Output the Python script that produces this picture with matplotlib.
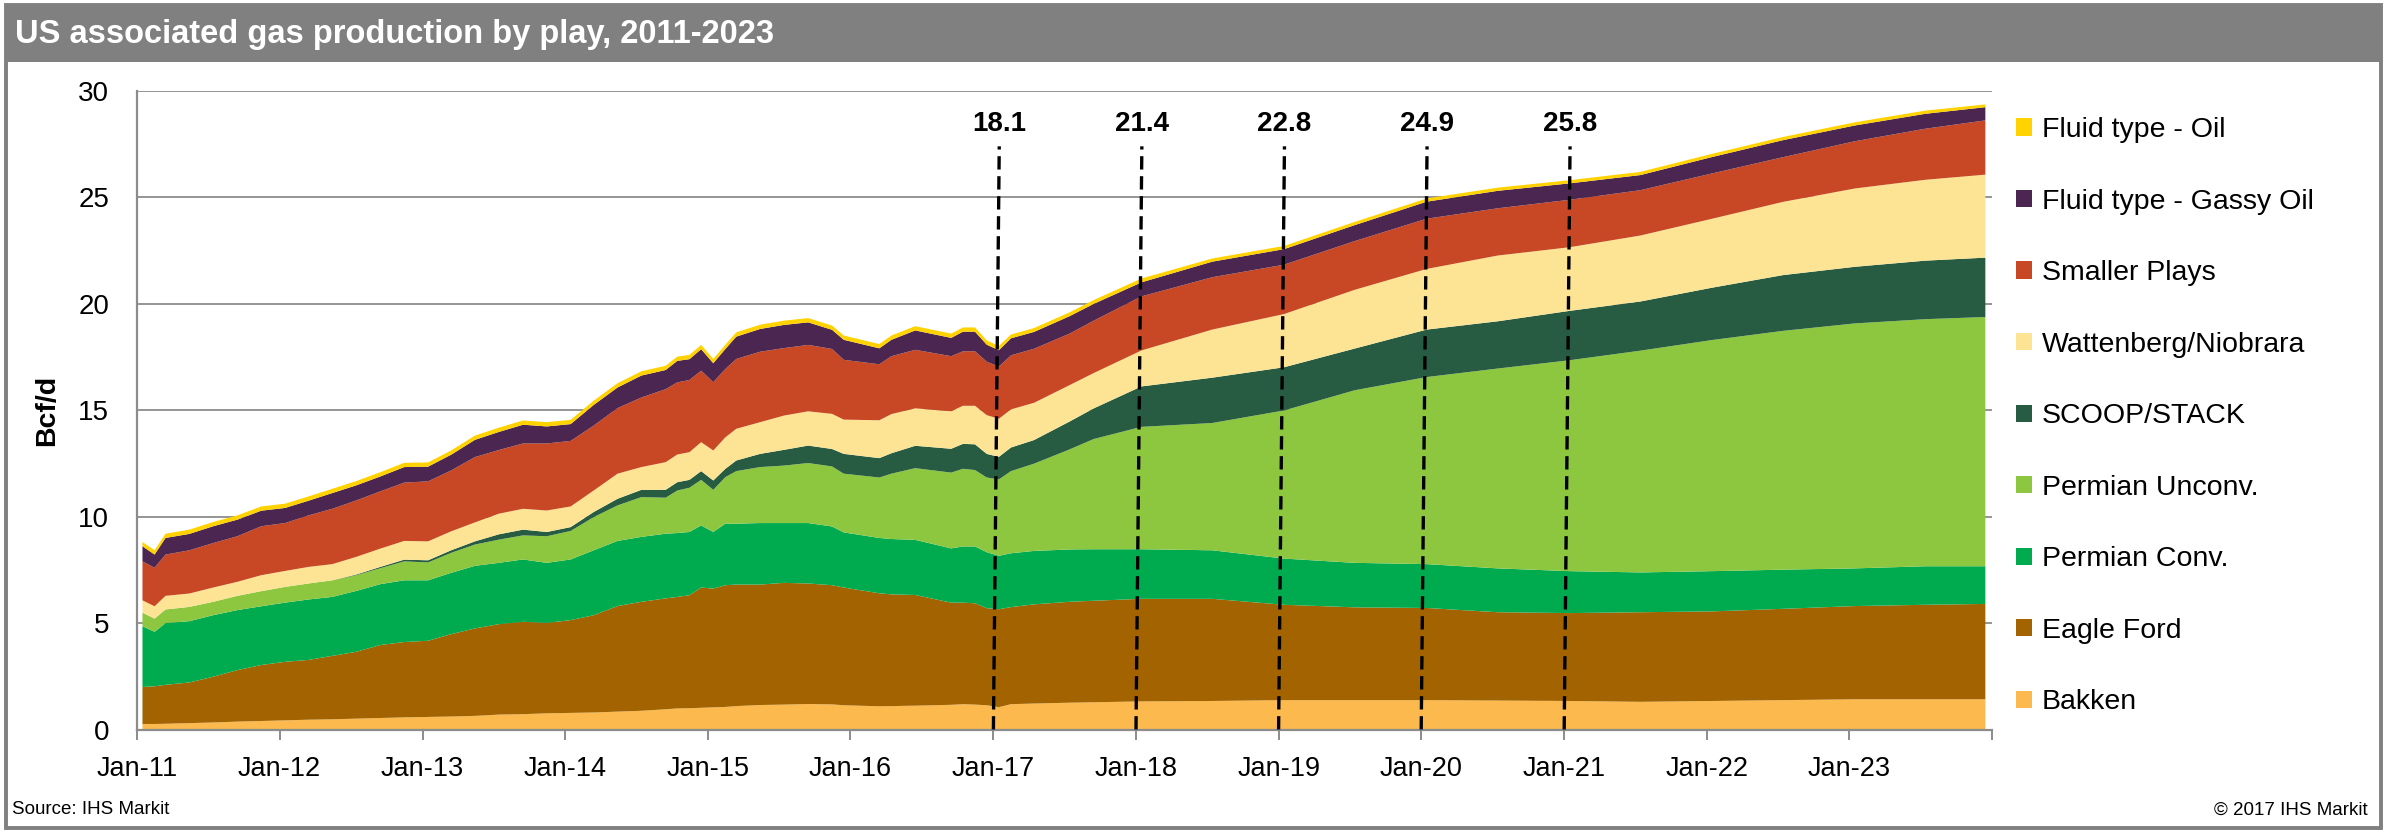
import matplotlib
matplotlib.use("Agg")
import matplotlib.pyplot as plt
import matplotlib.dates as mdates
from matplotlib.patches import Patch, Rectangle
import pandas as pd

# ---------------- data (Bcf/d), mid-month samples ----------------
dates = ["2011-01", "2011-02", "2011-03", "2011-05", "2011-07", "2011-09", "2011-11",
         "2012-01", "2012-03", "2012-05", "2012-07", "2012-09", "2012-11",
         "2013-01", "2013-03", "2013-05", "2013-07", "2013-09", "2013-11",
         "2014-01", "2014-03", "2014-05", "2014-07", "2014-09", "2014-10", "2014-11", "2014-12",
         "2015-01", "2015-02", "2015-03", "2015-05", "2015-07", "2015-09", "2015-11", "2015-12",
         "2016-03", "2016-04", "2016-06", "2016-09", "2016-10", "2016-11", "2016-12",
         "2017-01", "2017-02", "2017-04", "2017-07", "2017-09",
         "2018-01", "2018-07", "2019-01", "2019-07", "2020-01", "2020-07",
         "2021-01", "2021-07", "2022-01", "2022-07", "2023-01", "2023-07", "2023-12"]

bakken = [.26, .26, .27, .30, .33, .37, .40, .43, .46, .48,
          .51, .54, .57, .59, .61, .64, .70, .72, .76, .78,
          .80, .84, .88, .95, .99, 1.00, 1.02, 1.04, 1.06, 1.10,
          1.15, 1.17, 1.20, 1.18, 1.14, 1.09, 1.10, 1.12, 1.16, 1.19,
          1.17, 1.14, 1.05, 1.19, 1.22, 1.26, 1.28, 1.32, 1.34, 1.38,
          1.38, 1.38, 1.36, 1.34, 1.30, 1.34, 1.38, 1.42, 1.42, 1.42]
eagle_ford = [1.74, 1.77, 1.83, 1.91, 2.15, 2.42, 2.63, 2.75, 2.81, 2.98,
              3.14, 3.43, 3.54, 3.58, 3.87, 4.11, 4.25, 4.34, 4.25, 4.36,
              4.57, 4.96, 5.12, 5.21, 5.24, 5.31, 5.65, 5.58, 5.72, 5.71,
              5.66, 5.72, 5.66, 5.60, 5.53, 5.31, 5.25, 5.20, 4.80, 4.77,
              4.76, 4.56, 4.60, 4.56, 4.66, 4.74, 4.77, 4.82, 4.80, 4.48,
              4.36, 4.33, 4.15, 4.13, 4.21, 4.21, 4.29, 4.38, 4.44, 4.48]
permian_conv = [2.85, 2.56, 2.90, 2.88, 2.89, 2.82, 2.76, 2.78, 2.84, 2.77,
                2.86, 2.86, 2.90, 2.84, 2.88, 2.94, 2.88, 2.93, 2.82, 2.85,
                3.05, 3.06, 3.05, 3.04, 3.00, 2.97, 2.92, 2.66, 2.89, 2.86,
                2.89, 2.81, 2.84, 2.76, 2.59, 2.60, 2.60, 2.59, 2.55, 2.64,
                2.67, 2.63, 2.51, 2.53, 2.51, 2.46, 2.42, 2.33, 2.28, 2.17,
                2.09, 2.06, 2.06, 1.97, 1.87, 1.89, 1.84, 1.77, 1.81, 1.77]
permian_unconv = [.64, .62, .64, .67, .63, .67, .71, .74, .75, .78,
                  .74, .75, .89, .84, .94, 1.00, 1.09, 1.13, 1.25, 1.34,
                  1.56, 1.67, 1.87, 1.69, 2.00, 2.08, 2.14, 1.98, 2.19, 2.47,
                  2.63, 2.70, 2.82, 2.82, 2.76, 2.84, 3.07, 3.37, 3.56, 3.65,
                  3.59, 3.51, 3.59, 3.86, 4.10, 4.70, 5.18, 5.75, 5.98, 6.96,
                  8.11, 8.79, 9.39, 9.91, 10.42, 10.86, 11.22, 11.51, 11.61, 11.71]
scoop_stack = [0, 0, 0, 0, 0, 0, 0, 0, 0, 0,
               .03, .06, .08, .10, .12, .15, .25, .27, .20, .18,
               .24, .31, .34, .37, .39, .37, .41, .44, .39, .50,
               .62, .74, .82, .82, .93, .91, .96, 1.05, 1.12, 1.17,
               1.21, 1.11, 1.06, 1.11, 1.11, 1.31, 1.44, 1.90, 2.13, 2.03,
               1.96, 2.23, 2.22, 2.32, 2.31, 2.46, 2.62, 2.66, 2.75, 2.79]
wattenberg = [.58, .58, .64, .63, .67, .66, .75, .75, .78, .76,
              .83, .86, .88, .89, .89, .89, .97, .98, 1.01, .97,
              1.01, 1.18, 1.07, 1.30, 1.30, 1.30, 1.36, 1.41, 1.48, 1.49,
              1.49, 1.61, 1.61, 1.65, 1.61, 1.78, 1.84, 1.76, 1.76, 1.79,
              1.81, 1.82, 1.79, 1.79, 1.75, 1.71, 1.66, 1.69, 2.26, 2.50,
              2.76, 2.85, 3.09, 2.99, 3.10, 3.24, 3.44, 3.68, 3.80, 3.90]
smaller_plays = [1.83, 1.81, 1.94, 2.03, 2.09, 2.14, 2.30, 2.25, 2.42, 2.60,
                 2.65, 2.69, 2.74, 2.82, 2.86, 3.07, 2.99, 3.07, 3.15, 3.08,
                 3.05, 3.08, 3.27, 3.43, 3.39, 3.39, 3.36, 3.21, 3.21, 3.28,
                 3.31, 3.17, 3.12, 3.05, 2.81, 2.63, 2.72, 2.75, 2.59, 2.56,
                 2.56, 2.51, 2.45, 2.54, 2.54, 2.42, 2.46, 2.54, 2.46, 2.32,
                 2.29, 2.36, 2.22, 2.23, 2.13, 2.13, 2.10, 2.22, 2.40, 2.55]
gassy_oil = [.71, .62, .78, .77, .79, .78, .73, .71, .69, .74,
             .71, .70, .73, .69, .74, .81, .85, .88, .80, .79,
             .97, .97, 1.03, .90, 1.01, .98, 1.01, .89, .94, 1.05,
             1.07, 1.09, 1.06, .90, .94, .75, .77, .91, .86, .92,
             .92, .80, .77, .80, .79, .82, .79, .66, .73, .73,
             .75, .80, .82, .77, .71, .77, .80, .74, .70, .62]
fluid_oil = [.20] * 43 + [.18] * 5 + [.15] * 11 + [.13]

series_labels = ["Bakken", "Eagle Ford", "Permian Conv.", "Permian Unconv.", "SCOOP/STACK",
                 "Wattenberg/Niobrara", "Smaller Plays", "Fluid type - Gassy Oil", "Fluid type - Oil"]
series_colors = ["#FBB94E", "#A36400", "#00AA4E", "#8DC63F", "#275C42",
                 "#FDE494", "#C84826", "#4B2650", "#FFD200"]

ann_dates = ["2017-01-01", "2018-01-01", "2019-01-01", "2020-01-01", "2021-01-01"]
ann_values = ["18.1", "21.4", "22.8", "24.9", "25.8"]

year_ticks = list(range(2011, 2025))

# ---------------- figure ----------------
W, H = 2388, 832
DPI = 100
plt.rcParams['font.family'] = ['Liberation Sans', 'DejaVu Sans']
fig = plt.figure(figsize=(W / DPI, H / DPI), dpi=DPI)
fig.patch.set_facecolor("white")

def fx(px):
    return px / W

def fy(py):
    return 1 - py / H

GRAY = "#808080"
# outer frame and title bar
fig.patches.append(Rectangle((fx(6), fy(828)), fx(2381) - fx(6), fy(5) - fy(828),
                             transform=fig.transFigure, fill=False, edgecolor=GRAY,
                             linewidth=2.8, zorder=0))
fig.patches.append(Rectangle((fx(6), fy(62)), fx(2381) - fx(6), fy(4) - fy(62),
                             transform=fig.transFigure, facecolor=GRAY, edgecolor=GRAY,
                             linewidth=0, zorder=0))
fig.text(fx(15), fy(34), "US associated gas production by play, 2011-2023",
         color="white", fontsize=23.5, fontweight="bold", va="center", ha="left")

ax = fig.add_axes([fx(137), fy(729.5), fx(1992) - fx(137), fy(91) - fy(729.5)])

x = pd.to_datetime(dates) + pd.Timedelta(days=14)
xn = mdates.date2num(x)
series = [bakken, eagle_ford, permian_conv, permian_unconv, scoop_stack,
          wattenberg, smaller_plays, gassy_oil, fluid_oil]
ax.stackplot(xn, *series, colors=series_colors, labels=series_labels,
             linewidth=0, zorder=2)

ax.set_ylim(0, 30)
ax.set_yticks(range(0, 31, 5))
ax.set_xlim(mdates.date2num(pd.Timestamp("2011-01-01")),
            mdates.date2num(pd.Timestamp("2024-01-01")))
tick_pos = [mdates.date2num(pd.Timestamp(f"{y}-01-01")) for y in year_ticks]
ax.set_xticks(tick_pos)
ax.set_xticklabels([pd.Timestamp(f"{y}-01-01").strftime("%b-%y") if y < 2024 else ""
                    for y in year_ticks])

ax.grid(axis="y", color="#8C8C8C", linewidth=1.3, zorder=0)
ax.set_axisbelow(True)
for s in ["top", "right"]:
    ax.spines[s].set_visible(False)
for s in ["left", "bottom"]:
    ax.spines[s].set_color("#8C8C8C")
    ax.spines[s].set_linewidth(1.6)
ax.tick_params(axis="y", length=0, pad=20, labelsize=20)
ax.tick_params(axis="x", length=7, width=1.4, color="#8C8C8C", pad=12, labelsize=19.5)
ax.set_ylabel("Bcf/d", fontsize=20.5, fontweight="bold", labelpad=13)

# annotations: dashed lines + labels
for d, v in zip(ann_dates, ann_values):
    xb = mdates.date2num(pd.Timestamp(d))
    xt = mdates.date2num(pd.Timestamp(d) + pd.Timedelta(days=15))
    ax.plot([xb, xt], [0, 27.4], color="black", linewidth=2.4,
            linestyle=(0, (4, 2)), zorder=5, solid_capstyle="butt")
    ax.text(xt, 28.45, v, ha="center", va="center", fontsize=20, fontweight="bold", zorder=6)

# legend (top entry first)
handles = [Patch(facecolor=c, edgecolor="none") for c in series_colors][::-1]
labels = series_labels[::-1]
fig.legend(handles, labels, loc="upper left", bbox_to_anchor=(fx(2016), fy(117)),
           frameon=False, fontsize=20.5, handlelength=0.55, handleheight=0.55,
           handletextpad=0.35, labelspacing=1.6, borderpad=0, borderaxespad=0)

fig.text(fx(12), fy(810), "Source: IHS Markit", fontsize=13.5, ha="left", va="center")
fig.text(fx(2368), fy(810), "\u00a9 2017 IHS Markit", fontsize=13.5, ha="right", va="center")

fig.savefig("out.png", dpi=DPI)
